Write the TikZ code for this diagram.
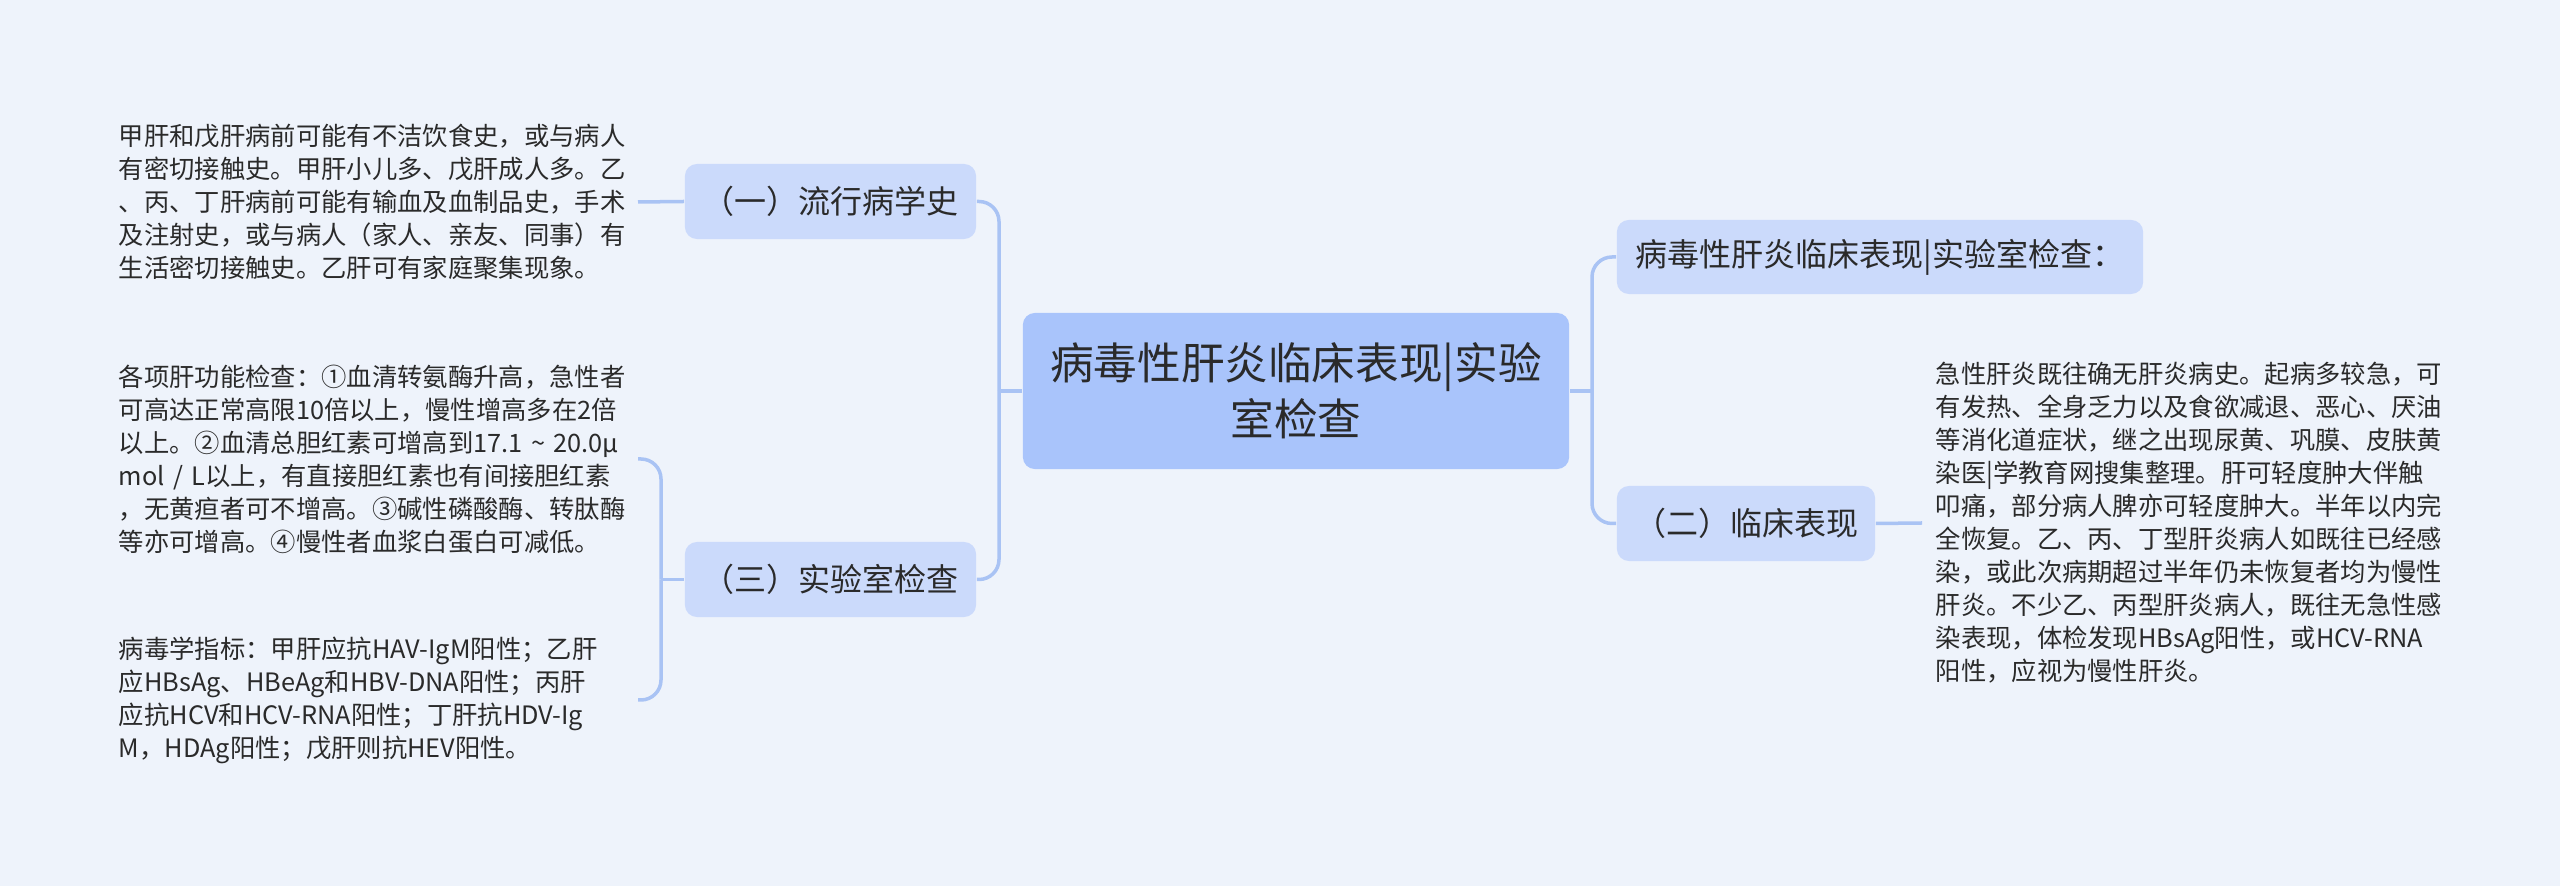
\documentclass[tikz,border=0pt]{standalone}
\usepackage{fontspec}
\setmainfont{Noto Sans CJK SC}
\definecolor{fond}{HTML}{EEF3FB}
\definecolor{bleuracine}{HTML}{A9C4FB}
\definecolor{bleubranche}{HTML}{CBDAFB}
\definecolor{trait}{HTML}{A9C3F4}
\definecolor{encre}{HTML}{2A2A2A}

\begin{document}
\begin{tikzpicture}[x=0.01cm,y=-0.01cm,
	racine/.style={fill=bleuracine,rounded corners=0.12cm,inner sep=0pt,align=center,text=encre,font=\fontsize{12.4pt}{15.9pt}\selectfont},
	branche/.style={fill=bleubranche,rounded corners=0.12cm,inner sep=0pt,minimum height=0.75cm,text=encre,font=\fontsize{9.1pt}{11pt}\selectfont},
	texte/.style={text width=5.05cm,align=left,inner sep=0.13cm,text=encre,font=\fontsize{7.2pt}{9.39pt}\selectfont},
	lien/.style={draw=trait,line width=0.035cm},
	coude/.style={lien,rounded corners=0.2cm,to path={|- (\tikztotarget)}}]
		\path[use as bounding box,fill=fond] (0,0) rectangle (2560,886);

		%\node (nom node) at(x,y) [style, taille] {texte} ;
		\node (node racine) at(1296,391) [racine,minimum width=5.46cm,minimum height=1.56cm] {病毒性肝炎临床表现|实验\\室检查} ;
		\node (node epid) at(830.5,201.5) [branche,minimum width=2.91cm] {（一）流行病学史} ;
		\node (node labo) at(830.5,579.5) [branche,minimum width=2.91cm] {（三）实验室检查} ;
		\node (node titre) at(1880,257) [branche,minimum width=5.26cm,minimum height=0.74cm] {病毒性肝炎临床表现|实验室检查：} ;
		\node (node clin) at(1746,523.5) [branche,minimum width=2.58cm] {（二）临床表现} ;

		%textes longs : une ligne par \\ , ancre east a gauche, west a droite
		\node (node texte epid) at(638,202) [texte,anchor=east] {甲肝和戊肝病前可能有不洁饮食史，或与病人\\有密切接触史。甲肝小儿多、戊肝成人多。乙\\、丙、丁肝病前可能有输血及血制品史，手术\\及注射史，或与病人（家人、亲友、同事）有\\生活密切接触史。乙肝可有家庭聚集现象。} ;
		\node (node texte fonction) at(638,459) [texte,anchor=east] {各项肝功能检查：①血清转氨酶升高，急性者\\可高达正常高限10倍以上，慢性增高多在2倍\\以上。②血清总胆红素可增高到17.1 \textasciitilde{} 20.0μ\\mol / L以上，有直接胆红素也有间接胆红素\\，无黄疸者可不增高。③碱性磷酸酶、转肽酶\\等亦可增高。④慢性者血浆白蛋白可减低。} ;
		\node (node texte virus) at(638,700) [texte,anchor=east] {病毒学指标：甲肝应抗HAV-IgM阳性；乙肝\\应HBsAg、HBeAg和HBV-DNA阳性；丙肝\\应抗HCV和HCV-RNA阳性；丁肝抗HDV-Ig\\M，HDAg阳性；戊肝则抗HEV阳性。} ;
		\node (node texte clin) at(1922,523) [texte,anchor=west] {急性肝炎既往确无肝炎病史。起病多较急，可\\有发热、全身乏力以及食欲减退、恶心、厌油\\等消化道症状，继之出现尿黄、巩膜、皮肤黄\\染医|学教育网搜集整理。肝可轻度肿大伴触\\叩痛，部分病人脾亦可轻度肿大。半年以内完\\全恢复。乙、丙、丁型肝炎病人如既往已经感\\染，或此次病期超过半年仍未恢复者均为慢性\\肝炎。不少乙、丙型肝炎病人，既往无急性感\\染表现，体检发现HBsAg阳性，或HCV-RNA\\阳性，应视为慢性肝炎。} ;

		%points de jonction des accolades
		\coordinate (jonction gauche) at(999,391) ;
		\coordinate (jonction droite) at(1592,391) ;
		\coordinate (jonction labo) at(661,579.5) ;

		%\path (node A) edge[lien ou coude] (node B);
		\path
		(node racine.west) edge[lien] (jonction gauche)
		(jonction gauche) edge[coude] (node epid.east)
		(jonction gauche) edge[coude] (node labo.east)
		(node racine.east) edge[lien] (jonction droite)
		(jonction droite) edge[coude] (node titre.west)
		(jonction droite) edge[coude] (node clin.west)
		(node texte epid.east) edge[lien] (node epid.west)
		(node labo.west) edge[lien] (jonction labo)
		(jonction labo) edge[coude] (node texte fonction.east)
		(jonction labo) edge[coude] (node texte virus.east)
		(node clin.east) edge[lien] (node texte clin.west)
		;
	\end{tikzpicture}
\end{document}
